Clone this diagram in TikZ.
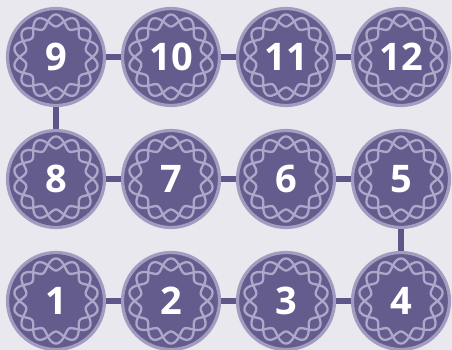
\documentclass[tikz,border=0pt]{standalone}
\usepackage{fontspec}
\setsansfont{Open Sans}
\definecolor{bg}{HTML}{E8E8EE}
\definecolor{disc}{HTML}{645C8D}
\definecolor{rim}{HTML}{A29DC0}
\definecolor{braid}{HTML}{ADA8CA}
\definecolor{link}{HTML}{5E5688}
\begin{document}
\begin{tikzpicture}[x=1pt,y=-1pt,
  stepdisc/.style={circle, fill=disc, draw=rim, line width=3.2pt, minimum size=97pt, inner sep=0pt,
    text=white, font=\sffamily\bfseries\fontsize{38}{38}\selectfont},
  linkline/.style={draw=link, line width=6pt},
  braidline/.style={draw=braid, line width=2.3pt}]
\fill[bg] (0,0) rectangle (452,350);
\useasboundingbox (0,0) rectangle (452,350);
\foreach \n/\x/\y in {1/56/301, 2/171/301, 3/286/301, 4/401/301,
                      5/401/179, 6/286/179, 7/171/179, 8/56/179,
                      9/56/57, 10/171/57, 11/286/57, 12/401/57}{
  \node[stepdisc] (n\n) at (\x,\y) {\raisebox{-2pt}{\n}};
  \begin{scope}[shift={(\x,\y)}]
    \draw[braidline] plot[domain=0:360, samples=211, smooth] ({(36.5+6*sin(7*\x))*cos(\x)}, {(36.5+6*sin(7*\x))*sin(\x)}) -- cycle;
    \draw[braidline] plot[domain=0:360, samples=211, smooth] ({(36.5-6*sin(7*\x))*cos(\x)}, {(36.5-6*sin(7*\x))*sin(\x)}) -- cycle;
  \end{scope}
}
\foreach \a/\b in {1/2, 2/3, 3/4, 4/5, 5/6, 6/7, 7/8, 8/9, 9/10, 10/11, 11/12}{
  \draw[linkline] (n\a) -- (n\b);
}
\end{tikzpicture}
\end{document}
